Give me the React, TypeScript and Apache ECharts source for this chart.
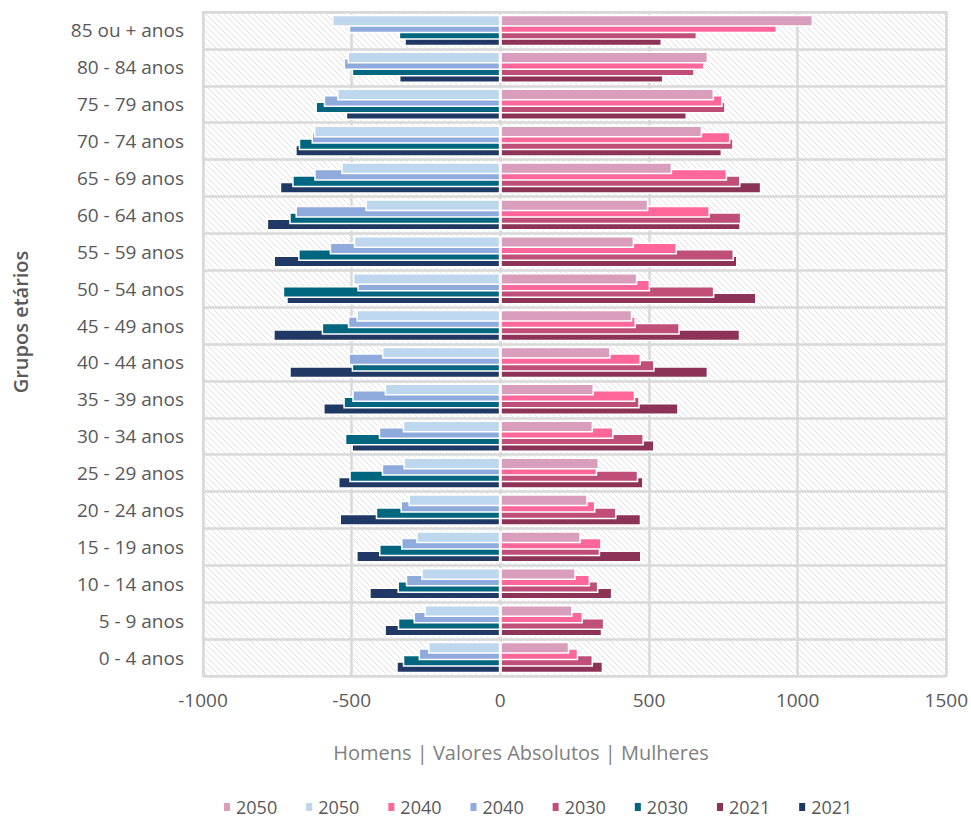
import React, { useEffect, useRef } from "react";
import * as echarts from "echarts";

const categories = [
  "0 - 4 anos", "5 - 9 anos", "10 - 14 anos", "15 - 19 anos", "20 - 24 anos",
  "25 - 29 anos", "30 - 34 anos", "35 - 39 anos", "40 - 44 anos", "45 - 49 anos",
  "50 - 54 anos", "55 - 59 anos", "60 - 64 anos", "65 - 69 anos", "70 - 74 anos",
  "75 - 79 anos", "80 - 84 anos", "85 ou + anos",
];

const f2050 = [232, 243, 254, 271, 294, 332, 312, 315, 371, 444, 461, 450, 498, 578, 679, 719, 699, 1052];
const f2040 = [262, 278, 302, 341, 320, 326, 381, 454, 473, 456, 504, 594, 705, 763, 774, 748, 687, 931];
const f2030 = [312, 350, 330, 336, 391, 464, 483, 469, 519, 604, 720, 786, 811, 808, 785, 758, 654, 662];
const f2021 = [346, 343, 377, 475, 474, 482, 519, 600, 699, 807, 862, 798, 809, 878, 746, 628, 549, 544];

const m2050 = [-243, -255, -266, -283, -309, -326, -328, -389, -398, -484, -496, -493, -454, -535, -627, -549, -514, -566];
const m2040 = [-275, -292, -318, -334, -336, -399, -409, -498, -511, -513, -481, -574, -689, -626, -635, -594, -527, -510];
const m2030 = [-328, -345, -346, -408, -419, -508, -523, -528, -500, -601, -732, -680, -710, -700, -678, -622, -500, -342];
const m2021 = [-350, -390, -441, -485, -541, -546, -501, -596, -710, -764, -720, -763, -786, -742, -690, -520, -341, -323];

const xTicks = [-1000, -500, 0, 500, 1000, 1500];

const FONT = "'Open Sans', sans-serif";
const TEXT = "#595959";

function makeHatch() {
  const s = 6;
  const c = document.createElement("canvas");
  c.width = s;
  c.height = s;
  const ctx = c.getContext("2d")!;
  ctx.fillStyle = "#ffffff";
  ctx.fillRect(0, 0, s, s);
  ctx.strokeStyle = "#e2e2e2";
  ctx.lineWidth = 1;
  ctx.beginPath();
  ctx.moveTo(-1, -1);
  ctx.lineTo(s + 1, s + 1);
  ctx.moveTo(-s - 1, -1);
  ctx.lineTo(1, s + 1);
  ctx.moveTo(s - 1, -1);
  ctx.lineTo(2 * s + 1, s + 1);
  ctx.stroke();
  return c;
}

export default function App() {
  const ref = useRef<HTMLDivElement>(null);
  useEffect(() => {
    if (!ref.current) return;
    document.body.style.margin = "0";
    const chart = echarts.init(ref.current, undefined, { renderer: "svg" });
    const hatch = makeHatch();

    // first stack is placed at the top of each band; higher z draws on top
    const seriesDefs = [
      { name: "2050F", stack: "y2050", data: f2050, color: "#DA9EBD", z: 6 },
      { name: "2050M", stack: "y2050", data: m2050, color: "#BDD7EE", z: 6 },
      { name: "2040F", stack: "y2040", data: f2040, color: "#FF6699", z: 5 },
      { name: "2040M", stack: "y2040", data: m2040, color: "#8FAADC", z: 5 },
      { name: "2030F", stack: "y2030", data: f2030, color: "#BF4F78", z: 4 },
      { name: "2030M", stack: "y2030", data: m2030, color: "#00667F", z: 4 },
      { name: "2021F", stack: "y2021", data: f2021, color: "#8C3357", z: 3 },
      { name: "2021M", stack: "y2021", data: m2021, color: "#203864", z: 3 },
    ];

    chart.setOption({
      animation: false,
      grid: {
        left: 203,
        right: 24,
        top: 12,
        bottom: 142,
        show: true,
        backgroundColor: { image: hatch, repeat: "repeat" },
        borderColor: "#d9d9d9",
        borderWidth: 2,
        containLabel: false,
      },
      xAxis: {
        type: "value",
        min: xTicks[0],
        max: xTicks[xTicks.length - 1],
        interval: 500,
        axisLine: { show: false },
        axisTick: { show: false },
        axisLabel: {
          color: TEXT,
          fontSize: 19,
          fontFamily: FONT,
          margin: 14,
          formatter: (v: number) => String(v),
        },
        splitLine: { show: true, lineStyle: { color: "#d9d9d9", width: 2.5 } },
      },
      yAxis: {
        type: "category",
        data: categories,
        axisLine: { show: false },
        axisTick: { show: false },
        axisLabel: { color: TEXT, fontSize: 19, fontFamily: FONT, margin: 19 },
        splitLine: { show: true, interval: 0, lineStyle: { color: "#d9d9d9", width: 2.5 } },
      },
      legend: {
        top: 798,
        left: 222,
        icon: "rect",
        itemWidth: 8,
        itemHeight: 10,
        itemGap: 27,
        padding: 0,
        data: seriesDefs.map((s) => s.name),
        formatter: (n: string) => n.slice(0, 4),
        textStyle: { color: TEXT, fontSize: 18, fontFamily: FONT, lineHeight: 18 },
      },
      graphic: [
        {
          type: "text",
          x: 20,
          y: 322,
          rotation: Math.PI / 2,
          style: {
            text: "Grupos etários",
            fill: TEXT,
            font: `600 20px ${FONT}`,
            align: "center",
            verticalAlign: "middle",
          },
        },
        {
          type: "text",
          x: 521,
          y: 752,
          style: {
            text: "Homens | Valores Absolutos | Mulheres",
            fill: "#7f7f7f",
            font: `500 20px ${FONT}`,
            align: "center",
            verticalAlign: "middle",
          },
        },
      ],
      series: seriesDefs.map((s) => ({
        type: "bar",
        name: s.name,
        stack: s.stack,
        data: s.data,
        z: s.z,
        barWidth: 12,
        barGap: "-46%",
        itemStyle: { color: s.color, borderColor: "#ffffff", borderWidth: 1.5 },
      })),
    });
    return () => chart.dispose();
  }, []);
  return <div ref={ref} style={{ width: 971, height: 818 }} />;
}
